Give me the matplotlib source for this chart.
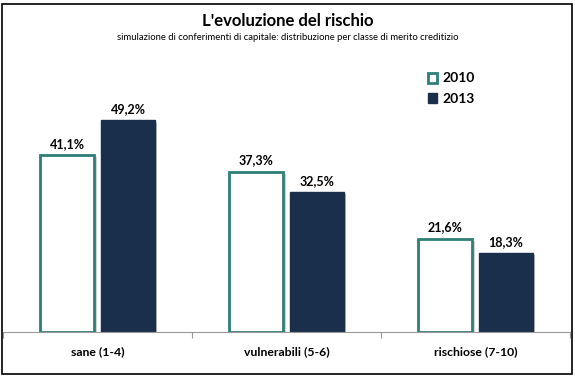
import matplotlib.pyplot as plt
import matplotlib.patheffects as pe
import numpy as np

# data
categories = ['sane (1-4)', 'vulnerabili (5-6)', 'rischiose (7-10)']
values_2010 = [41.1, 37.3, 21.6]
values_2013 = [49.2, 32.5, 18.3]
series_labels = ['2010', '2013']

teal = '#2e7f78'
navy = '#192f4c'

plt.rcParams['font.family'] = ['Lato', 'DejaVu Sans']

fig = plt.figure(figsize=(5.75, 3.78), dpi=100)
# outer frame
fig.patches.append(plt.Rectangle((2 / 575, 4 / 378), 570 / 575, 370 / 378,
                                 transform=fig.transFigure, fill=False,
                                 edgecolor='black', linewidth=1.2))

ax = fig.add_axes([3 / 575, 46 / 378, 567 / 575, 270 / 378])
x = np.arange(len(categories))
w = 0.29
shadow = [pe.SimplePatchShadow(offset=(1.5, -1.5), alpha=0.25), pe.Normal()]
b1 = ax.bar(x - w / 2 - 0.016, values_2010, w, color='white', edgecolor=teal,
            linewidth=2, label=series_labels[0], path_effects=shadow)
b2 = ax.bar(x + w / 2 + 0.016, values_2013, w, color=navy, edgecolor=navy,
            linewidth=1, label=series_labels[1], path_effects=shadow)

for bars in (b1, b2):
    for b in bars:
        ax.text(b.get_x() + b.get_width() / 2, b.get_height() + 1.3,
                ('%.1f%%' % b.get_height()).replace('.', ','),
                ha='center', va='bottom', fontsize=9, fontweight='bold')

ax.set_xlim(-0.5, 2.5)
ax.set_ylim(0, 62.8)
ax.set_yticks([])
ax.set_xticks([-0.5, 0.5, 1.5, 2.5], minor=False)
ax.set_xticklabels([])
ax.set_xticks(x, minor=True)
ax.set_xticklabels(categories, minor=True, fontsize=8.8, fontweight='bold')
ax.tick_params(axis='x', which='minor', length=0, pad=10)
ax.tick_params(axis='x', which='major', length=4, color='#999999', direction='out')
for s in ['top', 'left', 'right']:
    ax.spines[s].set_visible(False)
ax.spines['bottom'].set_color('#999999')

leg = fig.legend(handles=[b1, b2], loc='upper left', bbox_to_anchor=(415 / 575, 1 - 60 / 378),
                 frameon=False, handlelength=0.7, handleheight=0.7, handletextpad=0.4,
                 labelspacing=0.6, prop={'size': 10, 'weight': 'bold'})
for h in leg.legend_handles:
    h.set_path_effects([])

fig.text(0.5, 1 - 21 / 378, "L'evoluzione del rischio", ha='center', va='center',
         fontsize=12, fontweight='bold')
fig.text(0.5, 1 - 37 / 378, 'simulazione di conferimenti di capitale: distribuzione per classe di merito creditizio',
         ha='center', va='center', fontsize=6.8)

plt.savefig('out.png', dpi=100)
plt.close()
